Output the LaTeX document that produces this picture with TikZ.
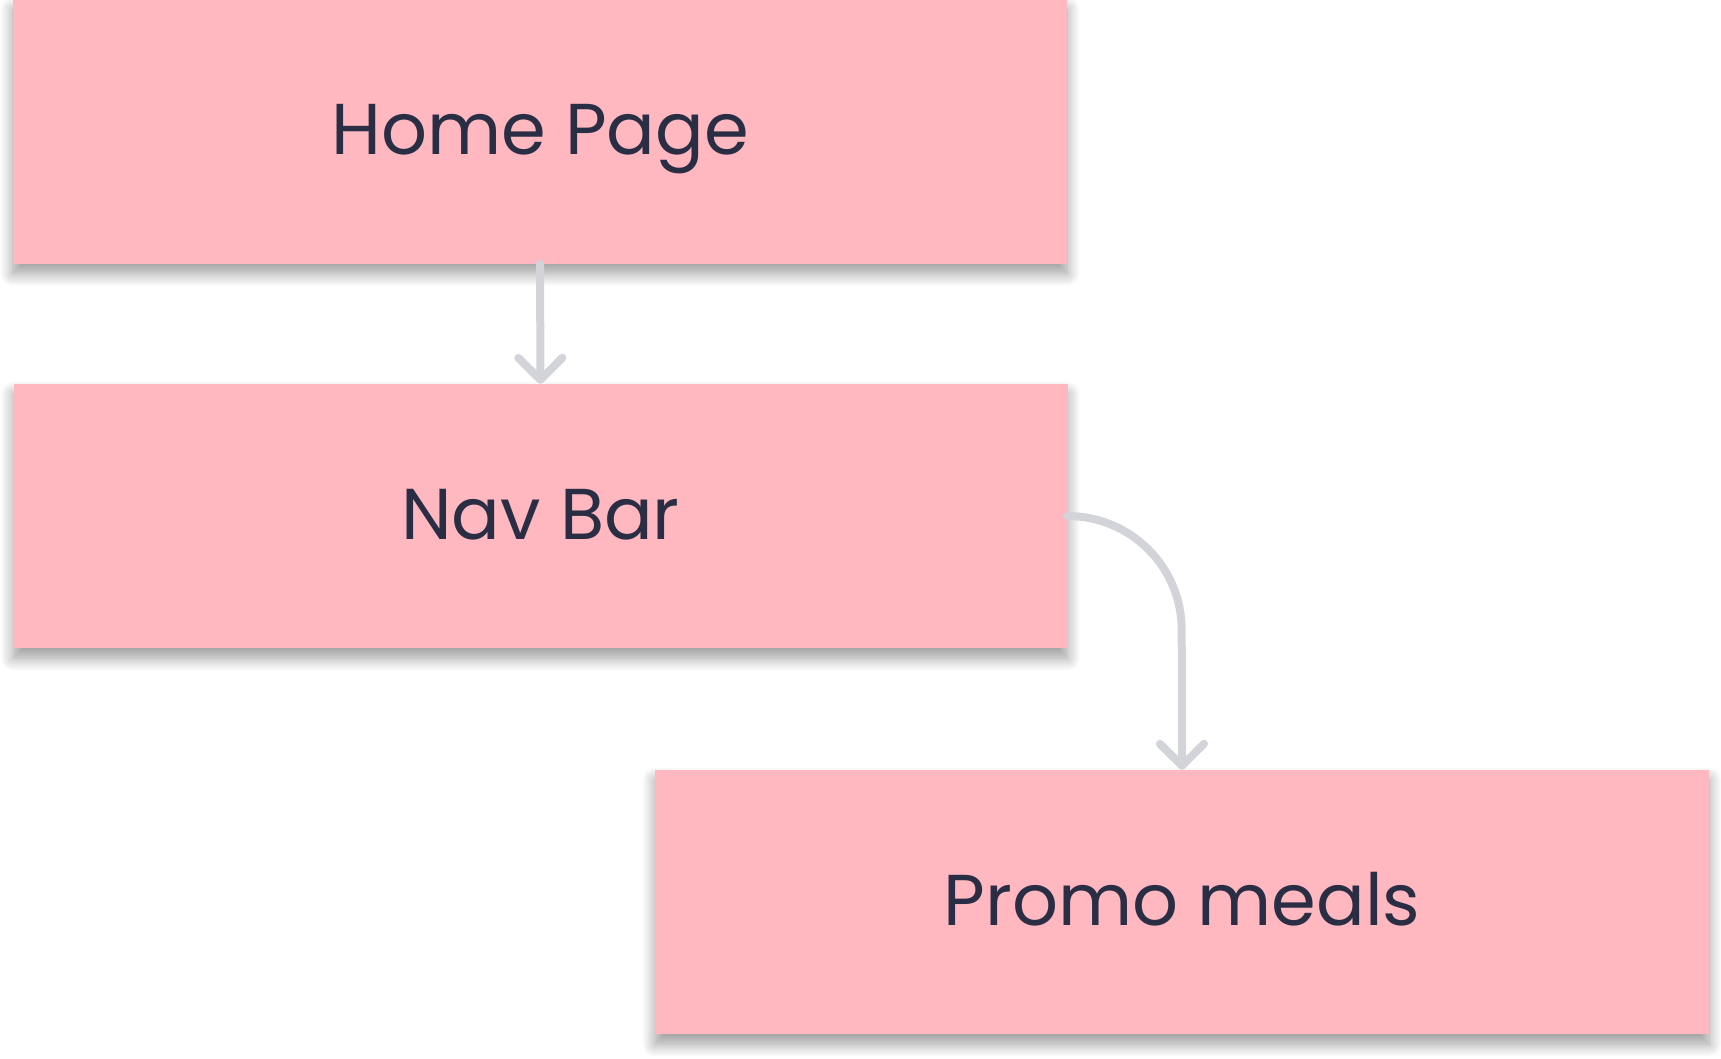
\documentclass[tikz,border=0pt]{standalone}
\usepackage{fontspec}
\setmainfont{Poppins}
\usetikzlibrary{shadows.blur,arrows.meta}
\definecolor{boxpink}{HTML}{FFB7C0}
\definecolor{txt}{HTML}{2A2E45}
\definecolor{conn}{HTML}{D3D4DA}
\begin{document}
\begin{tikzpicture}[x=1pt,y=-1pt,
  pagebox/.style={fill=boxpink, draw=none, minimum width=1054pt, minimum height=264pt,
    inner sep=0pt, text=txt, font=\fontsize{72}{86}\selectfont, text height=46pt, text depth=0pt,
    blur shadow={shadow xshift=0pt, shadow yshift=-10pt, shadow blur radius=13pt, shadow blur steps=12, shadow opacity=40}},
  link/.style={draw=conn, line width=8pt, line cap=round, line join=round,
    -{Straight Barb[length=22pt, width=44pt, line width=8pt, round]}}
]
\useasboundingbox (0,0) rectangle (1721,1058);
\node[pagebox] (home) at (540,131.5) {Home Page};
\node[pagebox] (nav) at (540.5,516) {Nav Bar};
\node[pagebox] (promo) at (1182,902) {Promo meals};
\draw[link] (home.south) -- (nav.north);
\draw[link] (nav.east) arc[start angle=90, end angle=0, radius=114pt] -- (promo.north);
\end{tikzpicture}
\end{document}
